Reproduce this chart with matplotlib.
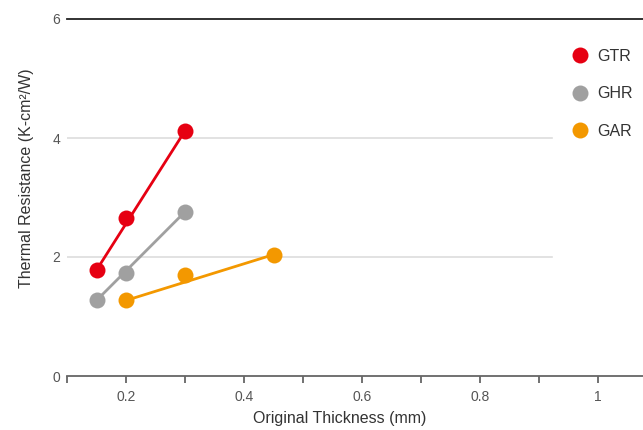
import matplotlib
matplotlib.use("Agg")
import matplotlib.pyplot as plt
from matplotlib.lines import Line2D
import numpy as np

plt.rcParams['font.family'] = ['Liberation Sans', 'DejaVu Sans']

series_names = ["GTR", "GHR", "GAR"]
colors = ["#E60012", "#A0A0A0", "#F39800"]
gtr_x = [0.15, 0.2, 0.3]
gtr_y = [1.78, 2.65, 4.12]
ghr_x = [0.15, 0.2, 0.3]
ghr_y = [1.27, 1.73, 2.76]
gar_x = [0.2, 0.3, 0.45]
gar_y = [1.27, 1.70, 2.04]
xticks = [0.1, 0.2, 0.3, 0.4, 0.5, 0.6, 0.7, 0.8, 0.9, 1.0]
xtick_labels = ["", "0.2", "", "0.4", "", "0.6", "", "0.8", "", "1"]
yticks = [0, 2, 4, 6]

fig = plt.figure(figsize=(6.43, 4.30), dpi=100)
W, H = 643, 430
left, right, top, bottom = 67, 643, 19, 376
ax = fig.add_axes([left / W, 1 - bottom / H, (right - left) / W, (bottom - top) / H])
ax.set_xlim(0.1, 0.1 + (right - left) / 590)
ax.set_ylim(0, 6)

for s in ax.spines.values():
    s.set_visible(False)

# gridlines
for yv in [2, 4]:
    ax.axhline(yv, xmin=0, xmax=(552 - left) / (right - left), color="#DDDDDD", lw=1.2, zorder=0)
ax.axhline(6, color="#222222", lw=1.3, zorder=1, clip_on=False)
ax.axhline(0, color="#666666", lw=1.3, zorder=1, clip_on=False)

data = [(gtr_x, gtr_y), (ghr_x, ghr_y), (gar_x, gar_y)]
for (xs, ys), c, name in zip(data, colors, series_names):
    xs = np.array(xs); ys = np.array(ys)
    ax.plot(xs[[0, -1]], ys[[0, -1]], color=c, lw=2.0, zorder=2)
    ax.plot(xs, ys, 'o', color=c, markersize=11.5, markeredgewidth=0, zorder=3)

ax.set_xticks(xticks)
ax.set_xticklabels(xtick_labels)
ax.tick_params(axis='x', length=5, width=1.3, color="#666666", direction='out', pad=5,
               labelsize=10, labelcolor="#555555")

ax.set_yticks(yticks)
ax.set_yticklabels([str(v) for v in yticks])
ax.tick_params(axis='y', length=0, pad=5, labelsize=10, labelcolor="#555555")

fig.text(340 / W, 1 - 418 / H, "Original Thickness (mm)", ha='center', va='center', fontsize=11.5, color="#333333")
fig.text(27 / W, 1 - 178 / H, "Thermal Resistance (K-cm²/W)", ha='center', va='center', rotation=90, fontsize=11.5, color="#333333")

handles = [Line2D([], [], marker='o', linestyle='None', color=c, markersize=11.5, markeredgewidth=0) for c in colors]
leg = fig.legend(handles, series_names, loc='upper left', bbox_to_anchor=(572 / W, 1 - 49 / H),
                 frameon=False, fontsize=11.5, handlelength=1.0, handletextpad=0.55,
                 labelspacing=1.4, borderaxespad=0, borderpad=0)
for t in leg.get_texts():
    t.set_color("#333333")

fig.savefig("out.png", dpi=100, facecolor="white")
